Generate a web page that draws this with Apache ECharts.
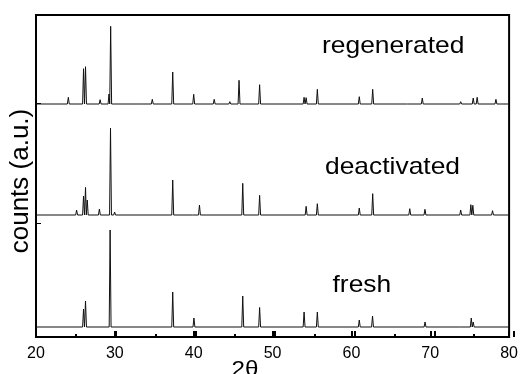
<!DOCTYPE html>
<html>
<head>
<meta charset="utf-8">
<script src="https://cdn.jsdelivr.net/npm/echarts@6/dist/echarts.min.js"></script>
<style>
html,body{margin:0;padding:0;background:#fff;}
#chart{width:521px;height:374px;}
</style>
</head>
<body>
<div id="chart"></div>
<script>
// X axis tick labels (2θ)
const xTicks = [20, 30, 40, 50, 60, 70, 80];

// Sample names
const sampleNames = ["fresh", "deactivated", "regenerated"];

// Baseline offsets of each stacked pattern (arbitrary units)
const baseOffsets = [10, 122, 233];

// fresh: peak positions (2θ) and heights
const freshPos = [26.03, 26.28, 29.40, 37.34, 40.03, 46.22, 48.36, 54.00, 55.68, 61.00, 62.68, 69.34, 73.86, 75.20, 75.45];
const freshH   = [18, 26, 97, 35, 9, 31, 19.5, 15, 15, 7, 11, 5, 1.5, 9, 5];

// deactivated: peak positions and heights
const deactPos = [25.15, 26.03, 26.28, 26.50, 28.04, 29.45, 29.97, 37.34, 40.00, 40.73, 46.22, 48.36, 54.26, 55.68, 61.00, 62.70, 67.40, 69.33, 73.86, 75.15, 75.40, 77.90];
const deactH   = [5, 19, 27.6, 15, 6, 87, 3, 35, 1.5, 10, 31.7, 19.7, 8.7, 11.3, 7, 21.3, 6.3, 5.7, 5, 10.3, 9.7, 4.3];

// regenerated: peak positions and heights
const regenPos = [24.10, 26.03, 26.28, 28.13, 29.26, 29.47, 29.75, 33.03, 34.75, 37.34, 40.00, 42.60, 44.58, 45.75, 48.36, 54.00, 54.26, 55.68, 61.00, 62.70, 67.24, 68.99, 73.86, 75.45, 75.95, 78.33];
const regenH   = [6.7, 35.3, 37.3, 4.3, 10, 77.7, 2, 2, 4.7, 32, 9.7, 4.7, 2.3, 23.7, 19.3, 6.7, 6.3, 14.7, 7.3, 14.7, 2, 6, 2.3, 6, 6.7, 4.7];

const HW = 0.12; // half width of each peak in degrees

function buildPattern(pos, h, off) {
  const pts = [[20, off], [80, off]];
  pos.forEach(function (p, i) {
    pts.push([p - HW, off], [p, off + h[i]], [p + HW, off]);
  });
  pts.sort(function (a, b) { return a[0] - b[0]; });
  return pts;
}

const patterns = [
  buildPattern(freshPos, freshH, baseOffsets[0]),
  buildPattern(deactPos, deactH, baseOffsets[1]),
  buildPattern(regenPos, regenH, baseOffsets[2])
];

const chart = echarts.init(document.getElementById('chart'));
const FONT = '"Liberation Sans", Arial, sans-serif';

chart.setOption({
  animation: false,
  backgroundColor: '#fff',
  grid: [
    {left: 36, right: 7, top: 15, bottom: 37, show: true, borderColor: '#000', borderWidth: 2, backgroundColor: 'rgba(0,0,0,0)'},
    // helper grid for the two left-frame tick marks
    {left: 36, right: 7, top: 15, bottom: 151, show: false},
    // helper grid for the bottom tick marks
    {left: 36, right: 7, top: 15, bottom: 37, show: false}
  ],
  xAxis: [{
    type: 'value',
    gridIndex: 0,
    min: xTicks[0], max: xTicks[xTicks.length - 1], interval: 10,
    axisLine: {show: true, lineStyle: {color: '#000', width: 2}},
    axisTick: {show: true, inside: true, length: 6, lineStyle: {color: '#000', width: 2}},
    splitLine: {show: false},
    axisLabel: {show: true, color: '#000', fontSize: 16, fontFamily: FONT, margin: 9}
  }, {
    type: 'value',
    gridIndex: 1,
    min: 20, max: 80,
    show: false
  }, {
    type: 'value',
    gridIndex: 2,
    position: 'bottom',
    min: xTicks[0], max: xTicks[xTicks.length - 1], interval: 10,
    axisLine: {show: false},
    axisTick: {show: true, inside: true, length: 6, lineStyle: {color: '#000', width: 2}},
    axisLabel: {show: false},
    splitLine: {show: false}
  }, {
    type: 'value',
    gridIndex: 2,
    position: 'bottom',
    offset: 0,
    min: xTicks[0], max: xTicks[xTicks.length - 1], interval: 5,
    axisLine: {show: false},
    axisTick: {show: true, inside: true, length: 3, lineStyle: {color: '#000', width: 2}},
    axisLabel: {show: false},
    splitLine: {show: false}
  }],
  yAxis: [{
    type: 'value',
    gridIndex: 0,
    min: 0, max: 322,
    axisLine: {show: true, lineStyle: {color: '#000', width: 2}},
    axisTick: {show: false},
    axisLabel: {show: false},
    splitLine: {show: false}
  }, {
    type: 'value',
    gridIndex: 1,
    min: 0, max: 208, interval: 120,
    axisLine: {show: false},
    axisTick: {show: true, inside: true, length: 5, lineStyle: {color: '#000', width: 1}},
    axisLabel: {show: false},
    splitLine: {show: false}
  }, {
    type: 'value',
    gridIndex: 2,
    min: 0, max: 322,
    show: false
  }],
  series: patterns.map(function (d, i) {
    return {
      name: sampleNames[i],
      type: 'line',
      xAxisIndex: 0,
      yAxisIndex: 0,
      data: d,
      showSymbol: false,
      symbol: 'none',
      lineStyle: {color: '#111', width: 1}
    };
  }),
  graphic: [
    {type: 'text', x: 322, y: 46.5, scaleX: 1.1, style: {text: sampleNames[2], font: '24px ' + FONT, fill: '#000', textAlign: 'left', textVerticalAlign: 'middle'}},
    {type: 'text', x: 325, y: 167.5, scaleX: 1.1, style: {text: sampleNames[1], font: '24px ' + FONT, fill: '#000', textAlign: 'left', textVerticalAlign: 'middle'}},
    {type: 'text', x: 332.5, y: 285, scaleX: 1.1, style: {text: sampleNames[0], font: '24px ' + FONT, fill: '#000', textAlign: 'left', textVerticalAlign: 'middle'}},
    {type: 'text', x: 21, y: 181, rotation: Math.PI / 2, style: {text: 'counts (a.u.)', font: '26px ' + FONT, fill: '#000', textAlign: 'center', textVerticalAlign: 'middle'}},
    {type: 'text', x: 245, y: 359, scaleX: 1.1, style: {text: '2θ', font: '22px ' + FONT, fill: '#000', textAlign: 'center', textVerticalAlign: 'top'}}
  ]
});
</script>
</body>
</html>
